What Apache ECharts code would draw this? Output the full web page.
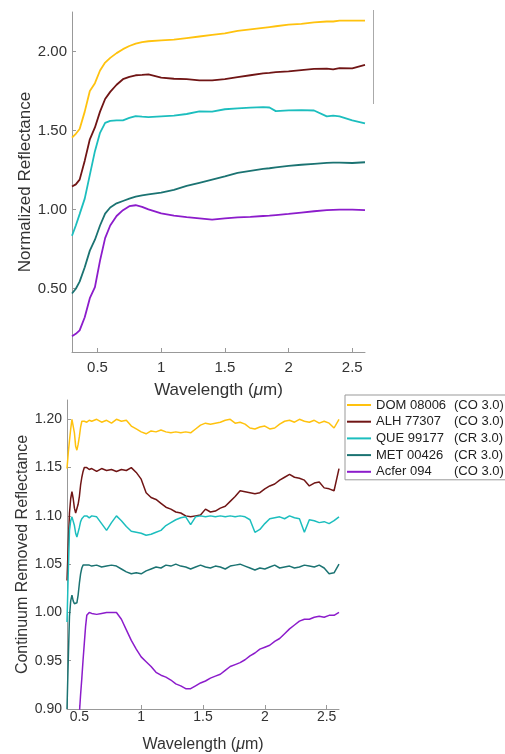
<!DOCTYPE html>
<html>
<head>
<meta charset="utf-8">
<script src="https://cdn.jsdelivr.net/npm/echarts@6/dist/echarts.min.js"></script>
<style>
html,body{margin:0;padding:0;background:#fff;}
#chart{width:505px;height:754px;}
</style>
</head>
<body>
<div id="chart"></div>
<script>
// sample names and classes
var names = ['DOM 08006', 'ALH 77307', 'QUE 99177', 'MET 00426', 'Acfer 094'];
var classes = ['(CO 3.0)', '(CO 3.0)', '(CR 3.0)', '(CR 3.0)', '(CO 3.0)'];
var colors = ['#FFC20E', '#701515', '#1CBEBE', '#1B7372', '#8C1CCB'];

// top panel: normalized reflectance
var topWl = [0.30,0.33,0.36,0.40,0.44,0.48,0.52,0.56,0.60,0.65,0.70,0.75,0.80,0.85,0.90,1.00,1.10,1.20,1.30,1.40,1.50,1.60,1.70,1.80,1.85,1.90,2.00,2.10,2.20,2.30,2.35,2.40,2.50,2.60];
var topDom = [1.455,1.48,1.51,1.62,1.75,1.80,1.88,1.93,1.96,1.99,2.015,2.035,2.05,2.06,2.065,2.07,2.075,2.085,2.095,2.105,2.115,2.13,2.14,2.15,2.155,2.16,2.17,2.175,2.185,2.19,2.19,2.195,2.195,2.195];
var topAlh = [1.146,1.16,1.19,1.31,1.445,1.52,1.62,1.70,1.745,1.79,1.825,1.84,1.85,1.852,1.855,1.835,1.828,1.825,1.818,1.817,1.825,1.838,1.85,1.862,1.865,1.87,1.875,1.883,1.89,1.892,1.887,1.895,1.893,1.915];
var topQue = [0.835,0.90,0.972,1.07,1.22,1.37,1.486,1.549,1.562,1.565,1.565,1.58,1.592,1.588,1.585,1.59,1.595,1.605,1.622,1.62,1.635,1.64,1.645,1.648,1.646,1.623,1.628,1.63,1.627,1.59,1.595,1.59,1.565,1.545];
var topMet = [0.47,0.50,0.545,0.636,0.741,0.81,0.90,0.975,1.014,1.04,1.055,1.07,1.083,1.09,1.097,1.108,1.125,1.15,1.17,1.19,1.21,1.232,1.245,1.258,1.262,1.268,1.277,1.284,1.29,1.296,1.297,1.298,1.295,1.30];
var topAcf = [0.20,0.215,0.237,0.32,0.44,0.51,0.678,0.82,0.90,0.96,0.997,1.022,1.028,1.018,1.002,0.976,0.962,0.953,0.945,0.937,0.945,0.951,0.955,0.96,0.962,0.966,0.973,0.982,0.99,0.997,0.999,1.0,1.0,0.997];
var topTicksX = [0.5, 1, 1.5, 2, 2.5];
var topTicksY = [0.5, 1.0, 1.5, 2.0];

// bottom panel: continuum removed reflectance
var botWl = [0.40,0.41,0.42,0.43,0.44,0.45,0.46,0.47,0.48,0.49,0.50,0.51,0.52,0.53,0.54,0.55,0.56,0.58,0.60,0.64,0.68,0.72,0.76,0.80,0.84,0.88,0.92,0.96,1.00,1.04,1.08,1.12,1.16,1.20,1.24,1.28,1.32,1.36,1.40,1.44,1.48,1.52,1.56,1.60,1.64,1.68,1.72,1.76,1.80,1.84,1.88,1.92,1.96,2.00,2.04,2.08,2.12,2.16,2.20,2.24,2.28,2.32,2.36,2.40,2.44,2.48,2.52,2.56,2.60];
var botDom = [1.149,1.165,1.178,1.19,1.200,1.198,1.186,1.172,1.168,1.174,1.182,1.192,1.198,1.200,1.198,1.200,1.197,1.199,1.198,1.200,1.197,1.199,1.196,1.200,1.198,1.199,1.193,1.190,1.187,1.185,1.188,1.187,1.189,1.187,1.186,1.187,1.186,1.187,1.186,1.190,1.194,1.196,1.195,1.196,1.197,1.199,1.200,1.196,1.197,1.195,1.191,1.190,1.192,1.193,1.190,1.191,1.195,1.198,1.199,1.197,1.200,1.198,1.197,1.199,1.196,1.198,1.196,1.191,1.200];
var botAlh = [1.033,1.07,1.103,1.118,1.125,1.118,1.108,1.103,1.104,1.112,1.12,1.132,1.140,1.146,1.150,1.149,1.150,1.148,1.149,1.146,1.149,1.147,1.148,1.146,1.148,1.147,1.150,1.145,1.138,1.124,1.119,1.117,1.113,1.109,1.107,1.104,1.103,1.100,1.099,1.100,1.101,1.107,1.104,1.105,1.108,1.110,1.115,1.120,1.126,1.125,1.124,1.123,1.124,1.128,1.131,1.133,1.137,1.140,1.143,1.140,1.139,1.137,1.131,1.134,1.135,1.129,1.128,1.126,1.149];
var botQue = [0.99,1.04,1.085,1.095,1.099,1.100,1.09,1.082,1.078,1.08,1.088,1.094,1.097,1.099,1.100,1.099,1.100,1.098,1.100,1.099,1.092,1.085,1.093,1.100,1.095,1.089,1.084,1.083,1.082,1.080,1.081,1.083,1.085,1.090,1.093,1.096,1.098,1.099,1.091,1.099,1.100,1.099,1.100,1.099,1.100,1.099,1.100,1.099,1.100,1.099,1.096,1.083,1.086,1.092,1.097,1.098,1.099,1.097,1.100,1.098,1.097,1.083,1.096,1.095,1.093,1.094,1.092,1.095,1.099];
var botMet = [0.90,0.95,0.996,1.012,1.018,1.012,1.009,1.010,1.010,1.018,1.030,1.04,1.046,1.049,1.048,1.049,1.048,1.049,1.048,1.049,1.047,1.048,1.049,1.048,1.045,1.042,1.040,1.041,1.040,1.043,1.045,1.047,1.046,1.049,1.048,1.050,1.048,1.047,1.045,1.047,1.049,1.047,1.046,1.048,1.047,1.045,1.048,1.049,1.050,1.048,1.046,1.044,1.046,1.045,1.047,1.049,1.046,1.047,1.048,1.046,1.047,1.049,1.048,1.047,1.049,1.046,1.040,1.041,1.050];
var botAcf = [0.84,0.843,0.846,0.85,0.853,0.856,0.86,0.864,0.868,0.875,0.895,0.915,0.932,0.951,0.968,0.985,0.997,1.0,0.999,0.998,0.999,1.0,1.0,1.0,0.993,0.982,0.971,0.962,0.954,0.949,0.944,0.938,0.935,0.933,0.930,0.926,0.924,0.921,0.921,0.924,0.927,0.929,0.932,0.934,0.936,0.940,0.944,0.946,0.948,0.951,0.955,0.958,0.962,0.964,0.966,0.970,0.973,0.978,0.983,0.987,0.991,0.993,0.993,0.995,0.996,0.995,0.997,0.997,1.0];
var botTicksX = [0.5, 1, 1.5, 2, 2.5];
var botTicksY = [0.90, 0.95, 1.00, 1.05, 1.10, 1.15, 1.20];

var font = 'Liberation Sans, Arial, sans-serif';

function pairs(xs, ys) {
	var out = [];
	for (var i = 0; i < xs.length; i++) out.push([xs[i], ys[i]]);
	return out;
}

var topSets = [topDom, topAlh, topQue, topMet, topAcf];
var botSets = [botDom, botAlh, botQue, botMet, botAcf];
var series = [];
for (var k = 0; k < names.length; k++) {
	series.push({
		name: names[k], type: 'line', xAxisIndex: 0, yAxisIndex: 0,
		data: pairs(topWl, topSets[k]), symbol: 'none', smooth: false,
		lineStyle: {color: colors[k], width: 1.8}, itemStyle: {color: colors[k]}
	});
	series.push({
		name: names[k], type: 'line', xAxisIndex: 1, yAxisIndex: 1,
		data: pairs(botWl, botSets[k]), symbol: 'none', smooth: false,
		lineStyle: {color: colors[k], width: 1.5}, itemStyle: {color: colors[k]}
	});
}

function xAxisFor(grid, min, max, ticks, size, nameSize, gap, margin) {
	return {
		gridIndex: grid, type: 'value', min: min, max: max,
		name: 'Wavelength ({m|μ}m)', nameLocation: 'middle', nameGap: gap,
		nameMoveOverlap: false,
		nameTextStyle: {fontFamily: font, fontSize: nameSize, color: '#333',
			rich: {m: {fontFamily: font, fontSize: nameSize, fontStyle: 'italic', color: '#333'}}},
		axisLine: {show: true, lineStyle: {color: '#999'}},
		axisTick: {show: true, inside: true, length: 4, customValues: ticks, lineStyle: {color: '#999'}},
		axisLabel: {customValues: ticks, fontFamily: font, fontSize: size, color: '#333', margin: margin},
		splitLine: {show: false}
	};
}

function yAxisFor(grid, min, max, ticks, size, name, nameSize, gap) {
	return {
		gridIndex: grid, type: 'value', min: min, max: max,
		name: name, nameLocation: 'middle', nameGap: gap,
		nameMoveOverlap: false,
		nameTextStyle: {fontFamily: font, fontSize: nameSize, color: '#333'},
		axisLine: {show: true, lineStyle: {color: '#999'}},
		axisTick: {show: true, inside: true, length: 4, customValues: ticks, lineStyle: {color: '#999'}},
		axisLabel: {customValues: ticks, fontFamily: font, fontSize: size, color: '#333', margin: 5,
			formatter: function (v) { return v.toFixed(2); }},
		splitLine: {show: false}
	};
}

var chart = echarts.init(document.getElementById('chart'));
chart.setOption({
	animation: false,
	backgroundColor: '#fff',
	grid: [
		{left: 72, right: 140, top: 12, bottom: 402},
		{left: 67, right: 166, top: 400, bottom: 45}
	],
	xAxis: [
		xAxisFor(0, 0.3, 2.6, topTicksX, 15, 17, 30, 8),
		xAxisFor(1, 0.4, 2.6, botTicksX, 14, 16, 28, 1)
	],
	yAxis: [
		yAxisFor(0, 0.1, 2.25, topTicksY, 15, 'Normalized Reflectance', 17, 38),
		yAxisFor(1, 0.9, 1.22, botTicksY, 14, 'Continuum Removed Reflectance', 16, 36)
	],
	legend: {
		data: names, orient: 'vertical', left: 345, top: 395,
		icon: 'rect', itemWidth: 24, itemHeight: 2, itemGap: 2.7,
		padding: [3, 3, 1, 2],
		borderColor: '#999', borderWidth: 1, backgroundColor: '#fff',
		selectedMode: false,
		formatter: function (name) {
			return '{a|' + name + '}{b|' + classes[names.indexOf(name)] + '}';
		},
		textStyle: {fontFamily: font, fontSize: 13, color: '#222', lineHeight: 14,
			rich: {a: {width: 78, fontFamily: font, fontSize: 13, lineHeight: 14, color: '#222'},
				b: {fontFamily: font, fontSize: 13, lineHeight: 14, color: '#222'}}}
	},
	graphic: [{
		type: 'line', shape: {x1: 373.5, y1: 10, x2: 373.5, y2: 104},
		style: {stroke: '#aaa', lineWidth: 1}
	}],
	series: series
});
</script>
</body>
</html>
